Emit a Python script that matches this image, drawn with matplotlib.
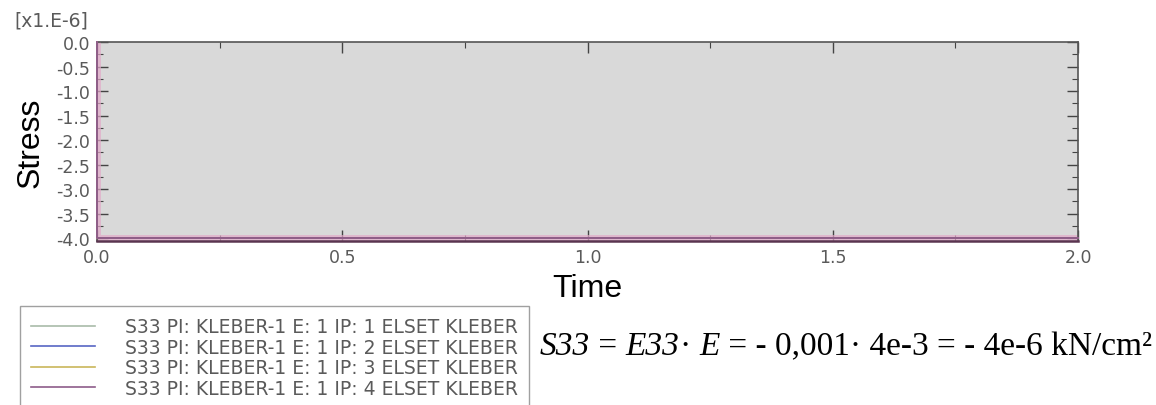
import matplotlib.pyplot as plt
from matplotlib.ticker import MultipleLocator, FormatStrFormatter
from matplotlib.lines import Line2D
from matplotlib.offsetbox import TextArea, HPacker, AnchoredOffsetbox

# S33 history for the four integration points (units: 1e-6 kN/cm^2)
time = [0.0, 0.0, 1.0, 2.0]
s33_ip1 = [0.0, -4.0, -4.0, -4.0]
s33_ip2 = [0.0, -4.0, -4.0, -4.0]
s33_ip3 = [0.0, -4.0, -4.0, -4.0]
s33_ip4 = [0.0, -4.0, -4.0, -4.0]

labels = [
    "S33 PI: KLEBER-1 E: 1 IP: 1 ELSET KLEBER",
    "S33 PI: KLEBER-1 E: 1 IP: 2 ELSET KLEBER",
    "S33 PI: KLEBER-1 E: 1 IP: 3 ELSET KLEBER",
    "S33 PI: KLEBER-1 E: 1 IP: 4 ELSET KLEBER",
]
colours = ["#a9bba9", "#5866c4", "#c9b65a", "#8e5c8a"]

# equation pieces: (text, italic?)
equation = [
    ("S33", True), (" = ", False), ("E33", True), ("· ", False), ("E", True),
    (" = - 0,001· 4e-3 = - 4e-6 kN/cm²", False),
]

fig = plt.figure(figsize=(11.56, 4.06), dpi=100)
ax = fig.add_axes([97 / 1156, 1 - 242 / 406, (1078 - 97) / 1156, (242 - 43) / 406])
ax.set_facecolor("#d9d9d9")

for ys, c in zip([s33_ip1, s33_ip2, s33_ip3, s33_ip4], colours):
    ax.plot(time, ys, color=c, linewidth=1.4, clip_on=False, zorder=3)
# soft pink halo under the last curve, as in the Abaqus viewer
ax.plot(time, s33_ip4, color="#e2a9c8", linewidth=5, alpha=0.7, zorder=2)

ax.set_xlim(0.0, 2.0)
ax.set_ylim(-4.06, 0.0)
ax.xaxis.set_major_locator(MultipleLocator(0.5))
ax.xaxis.set_minor_locator(MultipleLocator(0.25))
ax.yaxis.set_major_locator(MultipleLocator(0.5))
ax.yaxis.set_minor_locator(MultipleLocator(0.25))
ax.xaxis.set_major_formatter(FormatStrFormatter("%.1f"))
ax.yaxis.set_major_formatter(FormatStrFormatter("%.1f"))
ax.tick_params(which="both", direction="in", top=True, right=True,
               color="#444444", labelcolor="#5a5a5a", labelsize=12.5)
ax.tick_params(which="major", length=8, width=1, pad=5)
ax.tick_params(which="minor", length=4, width=0.8)
for s in ax.spines.values():
    s.set_color("#555555")
    s.set_linewidth(1.2)
ax.spines["bottom"].set_color("#5a3550")
ax.spines["bottom"].set_linewidth(1.8)

ax.set_xlabel("Time", fontsize=23, family="Liberation Sans", labelpad=5)
ax.set_ylabel("Stress", fontsize=23, family="Liberation Sans", labelpad=8)

fig.text(14 / 1156, 1 - 21 / 406, "[x1.E-6]", fontsize=13.5, color="#5a5a5a",
         va="center", ha="left")

handles = [Line2D([0], [0], color=c, linewidth=1.2) for c in colours]
leg = fig.legend(handles, labels, loc="upper left",
                 bbox_to_anchor=(20 / 1156, 1 - 307 / 406),
                 fontsize=13.5, frameon=True, fancybox=False,
                 edgecolor="#888888", handlelength=3.4, handletextpad=1.6,
                 labelspacing=0.08, borderaxespad=0, borderpad=0.6)
for t in leg.get_texts():
    t.set_color("#5a5a5a")

parts = [TextArea(txt, textprops=dict(fontsize=24, family="Liberation Serif",
                                      style="italic" if it else "normal"))
         for txt, it in equation]
eq_box = HPacker(children=parts, align="baseline", pad=0, sep=0)
anchored = AnchoredOffsetbox(loc="center left", child=eq_box, pad=0, borderpad=0,
                             frameon=False,
                             bbox_to_anchor=(540 / 1156, 1 - 347 / 406),
                             bbox_transform=fig.transFigure)
fig.add_artist(anchored)

fig.savefig("out.png", dpi=100)
